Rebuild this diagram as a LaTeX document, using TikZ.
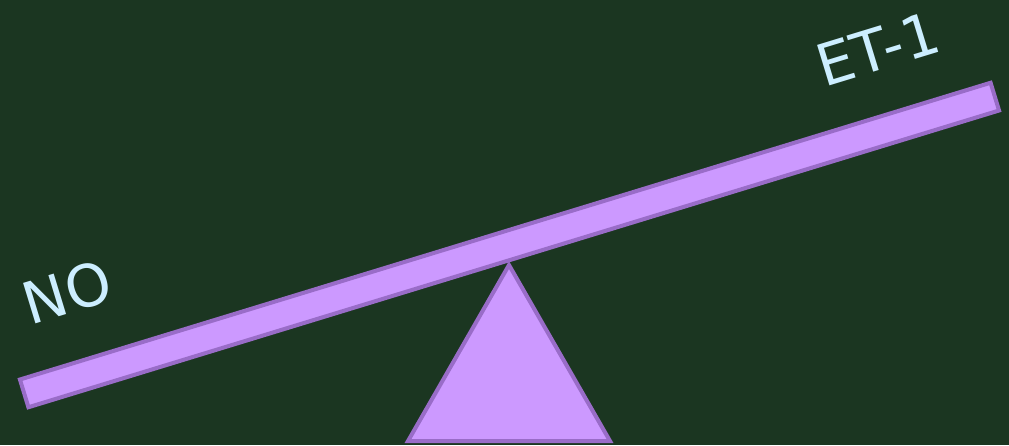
\documentclass[tikz,border=0pt]{standalone}
\usepackage{fontspec}
\setsansfont{DejaVu Sans}
\usepackage{tikz}
\definecolor{boardGreen}{RGB}{27, 54, 33}
\definecolor{plankLilac}{RGB}{204, 153, 255}
\definecolor{plankEdge}{RGB}{153, 108, 200}
\definecolor{labelBlue}{RGB}{204, 238, 255}

\begin{document}
\begin{tikzpicture}[x=1pt, y=-1pt,
    part/.style={fill=plankLilac, draw=plankEdge, line width=4pt, line join=miter},
    side/.style={text=labelBlue, font=\sffamily\fontsize{58}{58}\selectfont, rotate=17, inner sep=0pt}]
      \fill[boardGreen] (0,0) rectangle (1009,445);
      \useasboundingbox (0,0) rectangle (1009,445);
      % fulcrum
      \draw[part] (509,265) -- (610,441) -- (408,441) -- cycle;
      % plank
      \begin{scope}[shift={(509.5,245)}, rotate=17]
        \draw[part] (-507.5,-14.5) rectangle (507.5,14.5);
      \end{scope}
      \node[side] (no) at (67,292) {NO};
      \node[side] (et) at (878,49) {ET-1};
    \end{tikzpicture}
\end{document}
